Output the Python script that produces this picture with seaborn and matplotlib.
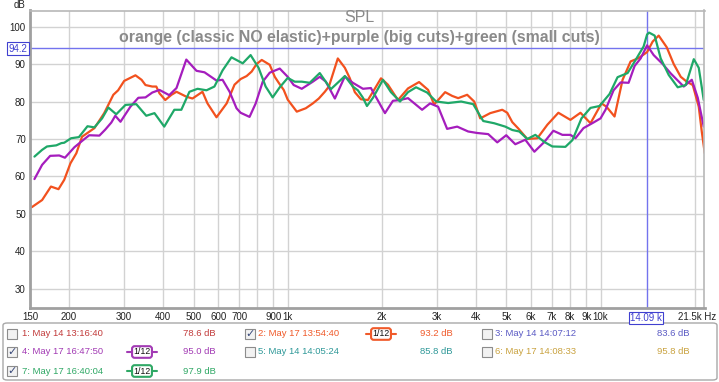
import numpy as np
import pandas as pd
import matplotlib
matplotlib.use('Agg')
import matplotlib.pyplot as plt
import seaborn as sns
from matplotlib.patches import FancyBboxPatch, Rectangle
from matplotlib.lines import Line2D

# --- trace data (Hz, dB) ---
orange_hz = [152, 164, 175, 185, 193, 202, 211, 220, 241, 259, 277, 287, 300, 326, 341, 351,
             369, 380, 389, 406, 425, 441, 474, 496, 534, 554, 592, 638, 676, 707, 739, 767,
             795, 826, 876, 909, 936, 971, 1000, 1069, 1142, 1203, 1257, 1314, 1354, 1446,
             1523, 1580, 1639, 1714, 1805, 1901, 1987, 2091, 2252, 2424, 2630, 2811, 2938,
             3186, 3355, 3507, 3747, 3946, 4125, 4440, 4851, 5033, 5223, 5460, 5834, 6282,
             6761, 7333, 8013, 8628, 9289, 10074, 10452, 11088, 11763, 12480, 13237, 14090,
             14678, 15346, 16279, 17140, 18050, 18865, 19720, 20610, 21070, 21540]
orange_db = [51.8, 53.7, 57.3, 56.6, 59.1, 63.5, 66.2, 70.6, 72.9, 76.9, 81.8, 83.0, 85.5, 87.0,
             85.8, 84.4, 84.0, 84.0, 82.2, 80.4, 81.8, 82.6, 81.3, 80.8, 82.6, 79.5, 75.8, 79.5,
             84.5, 86.0, 86.8, 88.0, 90.0, 91.1, 89.8, 86.6, 85.0, 83.1, 80.5, 77.3, 78.2, 79.5,
             80.8, 82.6, 84.0, 91.5, 89.0, 86.2, 82.5, 80.6, 80.4, 83.5, 86.2, 84.5, 80.4, 83.5,
             85.2, 83.1, 79.2, 82.5, 81.5, 80.9, 81.8, 80.0, 75.5, 76.9, 77.8, 77.0, 74.5, 72.8,
             70.0, 70.2, 73.8, 77.0, 75.1, 77.0, 74.2, 79.5, 78.6, 76.0, 85.8, 90.7, 91.6, 93.2,
             96.0, 97.6, 94.5, 90.0, 86.6, 85.3, 84.4, 78.6, 72.0, 66.2]

purple_hz = [155, 164, 174, 186, 194, 208, 224, 232, 250, 261, 273, 281, 292, 314, 333, 351,
             369, 389, 418, 441, 474, 511, 542, 592, 619, 652, 686, 707, 755, 790, 832, 876,
             943, 1000, 1045, 1109, 1203, 1266, 1324, 1415, 1523, 1615, 1740, 1845, 2046, 2170,
             2286, 2424, 2689, 2852, 3026, 3233, 3482, 3775, 4035, 4375, 4676, 4996, 5340,
             5749, 6145, 6613, 7068, 7553, 8013, 8315, 8821, 9498, 10000, 10375, 11007, 11590,
             12297, 12853, 13433, 14090, 14787, 15806, 16768, 18450, 19580, 20460, 21380]
purple_db = [59.3, 63.1, 65.5, 65.6, 65.0, 67.8, 70.0, 71.0, 70.9, 72.5, 74.4, 76.2, 74.6, 78.6,
             81.0, 81.1, 82.4, 83.1, 81.7, 83.6, 91.2, 88.2, 87.8, 85.6, 85.8, 82.6, 78.2, 77.0,
             75.9, 79.5, 85.3, 87.7, 88.8, 86.6, 84.4, 83.4, 85.3, 86.6, 85.3, 80.8, 86.7, 85.0,
             83.4, 83.6, 76.9, 80.2, 80.4, 80.9, 77.8, 79.5, 78.6, 72.7, 73.3, 72.0, 71.6, 71.3,
             69.1, 71.0, 68.6, 69.8, 66.6, 69.2, 72.2, 71.1, 71.1, 70.2, 72.9, 74.4, 75.5, 77.8,
             83.0, 85.1, 85.0, 89.5, 91.5, 95.0, 92.4, 90.0, 87.5, 84.0, 85.8, 81.0, 73.3]

green_hz = [155, 164, 170, 182, 189, 193, 203, 215, 229, 241, 255, 267, 283, 303, 328, 353,
            375, 403, 434, 457, 485, 515, 550, 583, 619, 661, 718, 761, 807, 850, 895, 943,
            1000, 1053, 1109, 1176, 1266, 1374, 1523, 1615, 1676, 1740, 1792, 1873, 2016,
            2138, 2286, 2424, 2572, 2790, 2982, 3258, 3585, 3917, 4217, 4573, 4960, 5223,
            5500, 5834, 6190, 6613, 7016, 7722, 8133, 8692, 9289, 9926, 10686, 11337, 12207,
            12948, 13734, 14090, 14300, 14897, 15574, 16521, 17654, 18730, 19870, 20610, 21380]
green_db = [65.3, 67.1, 68.0, 68.3, 68.9, 69.0, 70.2, 70.5, 73.4, 73.1, 75.5, 78.4, 76.6, 79.1,
            79.3, 76.2, 76.9, 73.3, 77.8, 77.8, 82.6, 83.4, 83.0, 84.0, 88.3, 91.8, 90.2, 92.4,
            89.0, 84.0, 81.1, 83.8, 86.3, 85.3, 85.3, 85.0, 87.6, 83.3, 86.8, 84.0, 83.0, 81.0,
            78.8, 81.0, 85.8, 82.5, 80.0, 82.5, 83.8, 82.4, 80.0, 79.6, 80.0, 79.3, 74.8, 74.2,
            73.3, 72.4, 72.0, 70.0, 71.1, 69.2, 68.0, 67.9, 69.7, 75.5, 78.3, 78.8, 82.0, 86.5,
            87.6, 91.1, 94.7, 97.9, 98.4, 97.6, 91.5, 87.1, 83.8, 84.4, 91.3, 89.0, 80.4]

x_ticks = [150, 200, 300, 400, 500, 600, 700, 800, 900, 1000, 2000, 3000, 4000, 5000,
           6000, 7000, 8000, 9000, 10000, 20000]
x_labels = ['150', '200', '300', '400', '500', '600', '700', '', '900', '1k', '2k', '3k', '4k',
            '5k', '6k', '7k', '8k', '9k', '10k', '']
x_end_label = '21.5k Hz'
y_ticks = [30, 40, 50, 60, 70, 80, 90, 100]

cursor_hz = 14090
cursor_db = 94.2

legend_labels = ['1: May 14 13:16:40', '2: May 17 13:54:40', '3: May 14 14:07:12',
                 '4: May 17 16:47:50', '5: May 14 14:05:24', '6: May 17 14:08:33',
                 '7: May 17 16:40:04']
legend_values = ['78.6 dB', '93.2 dB', '83.6 dB', '95.0 dB', '85.8 dB', '95.8 dB', '97.9 dB']
legend_colors = ['#c23b3b', '#f05a2a', '#5b5bc4', '#a23ab4', '#2e9898', '#c9a23f', '#2fa865']
legend_checked = [False, True, False, True, False, False, True]

title = 'SPL'
subtitle = 'orange (classic NO elastic)+purple (big cuts)+green (small cuts)'

trace_colors = {'orange': '#f2511e', 'purple': '#a51dbd', 'green': '#1fa868'}

df = pd.concat([
    pd.DataFrame({'freq': orange_hz, 'spl': orange_db, 'trace': 'orange'}),
    pd.DataFrame({'freq': purple_hz, 'spl': purple_db, 'trace': 'purple'}),
    pd.DataFrame({'freq': green_hz, 'spl': green_db, 'trace': 'green'}),
], ignore_index=True)

sns.set_theme(style='white')
plt.rcParams['font.family'] = ['Liberation Sans', 'DejaVu Sans']

W, H = 719, 382
fig = plt.figure(figsize=(W / 100, H / 100), dpi=100)
fig.patch.set_facecolor('white')


def fx(x):
    return x / W


def fy(y):
    return 1 - y / H


left, right, top, bottom = 30, 704.5, 10.5, 308.3
ax = fig.add_axes([fx(left), fy(bottom), (right - left) / W, (bottom - top) / H])

sns.lineplot(data=df, x='freq', y='spl', hue='trace', palette=trace_colors, estimator=None,
             sort=True, lw=1.6, legend=False, ax=ax)

ax.set_xscale('log')
ax.set_xlim(150, 21500)
ax.set_ylim(24.8, 104.3)
ax.set_xticks(x_ticks)
ax.set_xticklabels(x_labels)
ax.xaxis.set_minor_locator(matplotlib.ticker.NullLocator())
ax.set_yticks(y_ticks)
ax.set_xlabel('')
ax.set_ylabel('')
ax.tick_params(axis='both', length=0, labelsize=7, colors='#222222')
ax.tick_params(axis='x', pad=3)
ax.tick_params(axis='y', pad=3)
ax.grid(True, color='#d2d2d2', lw=1)
ax.set_axisbelow(True)
for s in ['left', 'bottom']:
    ax.spines[s].set_color('#a0a0a0')
    ax.spines[s].set_linewidth(2)
for s in ['top', 'right']:
    ax.spines[s].set_color('#b8b8b8')
    ax.spines[s].set_linewidth(1.2)

# cursor
ax.axhline(cursor_db, color='#7373ee', lw=1, zorder=1)
ax.axvline(cursor_hz, color='#7373ee', lw=1, zorder=1)

fig.text(fx(18), fy(48.5), f'{cursor_db:.1f}', ha='center', va='center', fontsize=7,
         color='#4040d0', bbox=dict(boxstyle='square,pad=0.15', fc='white', ec='#4040d0', lw=0.8))
fig.text(fx(646), fy(318), f'{cursor_hz / 1000:.2f} k', ha='center', va='center', fontsize=7,
         color='#4040d0', bbox=dict(boxstyle='square,pad=0.15', fc='white', ec='#4040d0', lw=0.8))
fig.text(fx(716), fy(317.5), x_end_label, ha='right', va='center', fontsize=7, color='#222222')

fig.text(fx(19), fy(5), 'dB', ha='center', va='center', fontsize=7, color='#222222')
fig.text(fx(359), fy(18), title, ha='center', va='center', fontsize=11.5, color='#8a8a8a')
fig.text(fx(359), fy(37.5), subtitle, ha='center', va='center', fontsize=11.4,
         fontweight='bold', color='#8a8a8a')

# legend panel
fig.add_artist(FancyBboxPatch((fx(3), fy(380)), fx(714), (380 - 323) / H,
                              boxstyle='round,pad=0,rounding_size=0.006',
                              fc='white', ec='#a8a8a8', lw=1, transform=fig.transFigure))

col_box = [12, 250, 487]
col_text = [22, 258, 495]
col_val = [183, 420, 657]
col_badge = [142, 381, 618]
row_y = [334, 352, 371]

for i, lab in enumerate(legend_labels):
    c, r = i % 3, i // 3
    y = row_y[r]
    col = legend_colors[i]
    fig.add_artist(Rectangle((fx(col_box[c] - 5), fy(y + 5)), 10 / W, 10 / H, fc='#f2f2f2',
                             ec='#8c8c8c', lw=0.8, transform=fig.transFigure))
    if legend_checked[i]:
        fig.text(fx(col_box[c] + 0.5), fy(y), '\u2713', ha='center', va='center', fontsize=8,
                 color='#3a4a7a', family='DejaVu Sans')
    fig.text(fx(col_text[c]), fy(y), lab, ha='left', va='center', fontsize=6.8, color=col)
    fig.text(fx(col_val[c]), fy(y), legend_values[i], ha='left', va='center', fontsize=6.8,
             color=col)
    if legend_checked[i]:
        bx = col_badge[c]
        fig.add_artist(Line2D([fx(bx - 15), fx(bx + 15)], [fy(y), fy(y)], color=col, lw=1.5,
                              transform=fig.transFigure))
        fig.text(fx(bx), fy(y), '1/12', ha='center', va='center', fontsize=6.3, color='#111111',
                 bbox=dict(boxstyle='round,pad=0.15,rounding_size=0.3', fc='white', ec=col, lw=1.5))

fig.savefig('out.png', dpi=100)
